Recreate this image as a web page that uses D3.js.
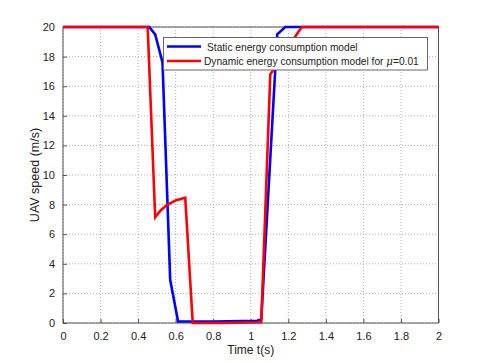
<!DOCTYPE html>
<html>
<head>
  <script src="https://d3js.org/d3.v7.min.js"></script>
  <style>
    body { margin: 0; background: #fff; }
    text { font-family: "Liberation Sans", Arial, sans-serif; }
  </style>
</head>
<body>
  <svg width="485" height="363"></svg>
</body>
<script>

// time (s) and speed (m/s)
const staticT = [0, 0.459, 0.491, 0.530, 0.571, 0.613, 0.80, 1.035, 1.056, 1.141, 1.184, 2];
const staticV = [20, 20, 19.5, 17.6, 2.9, 0.1, 0.1, 0.15, 0.25, 19.5, 20, 20];

const dynT = [0, 0.451, 0.491, 0.52, 0.553, 0.603, 0.651, 0.691, 0.85, 1.056, 1.104, 1.255, 1.273, 2];
const dynV = [20, 20, 7.15, 7.6, 7.97, 8.3, 8.47, 0, 0, 0.05, 16.8, 19.7, 20, 20];

const xTicks = [0, 0.2, 0.4, 0.6, 0.8, 1, 1.2, 1.4, 1.6, 1.8, 2];
const yTicks = [0, 2, 4, 6, 8, 10, 12, 14, 16, 18, 20];
const legendLabels = ['Static energy consumption model', 'Dynamic energy consumption model for '];

const L = 63, R = 438.5, T = 27, B = 323;

let svg = d3.select('svg');
let x = d3.scaleLinear().domain([0, 2]).range([L, R]);
let y = d3.scaleLinear().domain([0, 20]).range([B, T]);

// grid
let grid = svg.append('g');
xTicks.forEach(t => {
  grid.append('line')
    .attr('x1', x(t)).attr('x2', x(t)).attr('y1', T).attr('y2', B)
    .style('stroke', '#999').style('stroke-width', 0.8).style('stroke-dasharray', '1,2');
});
yTicks.forEach(t => {
  grid.append('line')
    .attr('x1', L).attr('x2', R).attr('y1', y(t)).attr('y2', y(t))
    .style('stroke', '#999').style('stroke-width', 0.8).style('stroke-dasharray', '1,2');
});

// axes
let xAxis = d3.axisBottom(x).tickValues(xTicks).tickSize(-4).tickPadding(9).tickFormat(d3.format('~g'));
let yAxis = d3.axisLeft(y).tickValues(yTicks).tickSize(-4).tickPadding(8);

let gx = svg.append('g').attr('transform', 'translate(0,' + B + ')').call(xAxis);
let gy = svg.append('g').attr('transform', 'translate(' + L + ',0)').call(yAxis);
[gx, gy].forEach(g => {
  g.select('.domain').remove();
  g.selectAll('line').style('stroke', '#555');
  g.selectAll('text').style('font-size', '11px').style('fill', '#222')
    .style('font-family', '"Liberation Sans", Arial, sans-serif');
});

// box
svg.append('rect')
  .attr('x', L).attr('y', T).attr('width', R - L).attr('height', B - T)
  .style('fill', 'none').style('stroke', '#555').style('stroke-width', 1);

let line = d3.line().x(d => x(d[0])).y(d => y(d[1]));

let series = [
  { t: staticT, v: staticV, color: '#0000ff' },
  { t: dynT, v: dynV, color: '#ff0000' }
];

series.forEach(s => {
  svg.append('path')
    .datum(s.t.map((t, i) => [t, s.v[i]]))
    .attr('d', line)
    .style('fill', 'none')
    .style('stroke', s.color)
    .style('stroke-width', 2.6)
    .style('stroke-linejoin', 'miter');
});

// labels
svg.append('text')
  .attr('x', (L + R) / 2).attr('y', 354)
  .attr('text-anchor', 'middle')
  .style('font-size', '12px').style('fill', '#222')
  .text('Time t(s)');

svg.append('text')
  .attr('transform', 'translate(39,' + (T + B) / 2 + ') rotate(-90)')
  .attr('text-anchor', 'middle')
  .style('font-size', '12.5px').style('fill', '#222')
  .text('UAV speed (m/s)');

// legend
let lg = svg.append('g');
lg.append('rect')
  .attr('x', 163.5).attr('y', 37.5).attr('width', 264).attr('height', 32.5)
  .style('fill', '#fff').style('stroke', '#666').style('stroke-width', 1);

series.forEach((s, i) => {
  let ly = 46.5 + i * 14.5;
  lg.append('line')
    .attr('x1', 167).attr('x2', 201).attr('y1', ly).attr('y2', ly)
    .style('stroke', s.color).style('stroke-width', 2.6);
  let txt = lg.append('text')
    .attr('x', i === 0 ? 207 : 204).attr('y', ly + 4)
    .style('font-size', '10.2px').style('fill', '#222')
    .text(legendLabels[i]);
  if (i === 1) {
    txt.append('tspan').style('font-style', 'italic').style('font-family', '"DejaVu Serif", serif').text('\u03bc');
    txt.append('tspan').text('=0.01');
  }
});

</script>
</html>
